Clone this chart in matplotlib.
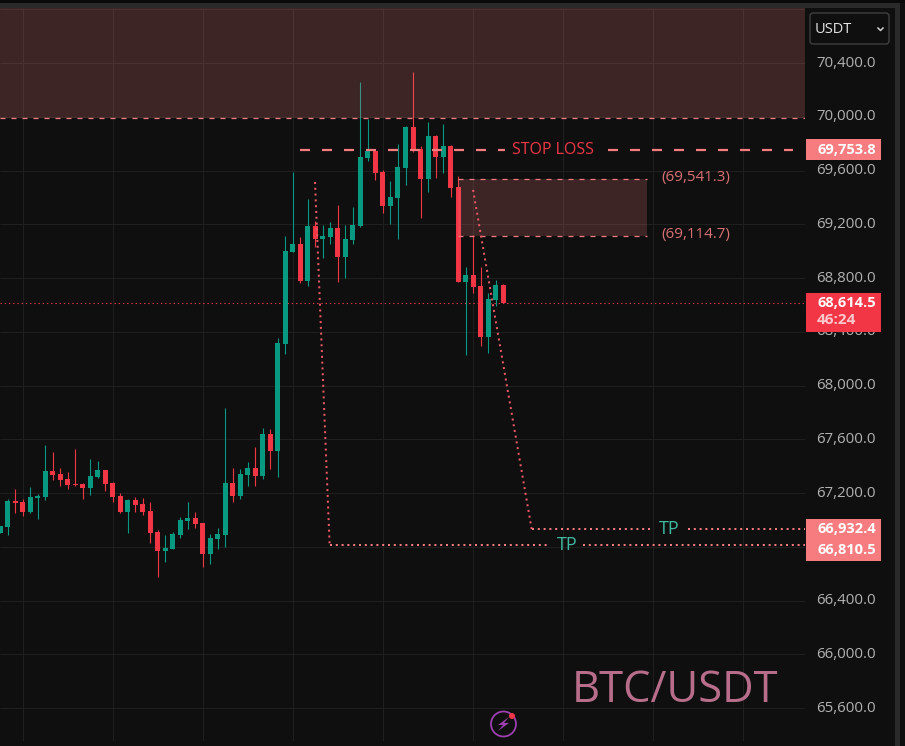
#!/usr/bin/env python
# -*- coding: utf-8 -*-

import matplotlib
matplotlib.use('Agg')
import matplotlib.pyplot as plt
from matplotlib.patches import Circle, FancyBboxPatch, Polygon, Rectangle
from matplotlib.transforms import ScaledTranslation

plt.rcParams['font.family'] = ['Open Sans', 'DejaVu Sans']

# candles, oldest first
opens = [66902, 66947, 67140, 67133, 67058, 67163, 67170, 67364, 67342, 67304,
         67267, 67267, 67237, 67319, 67371, 67274, 67178, 67058, 67148, 67118,
         67066, 66909, 66768, 66783, 66887, 66991, 67014, 66976, 66745, 66857,
         66887, 67274, 67178, 67334, 67386, 67327, 67640, 67514, 68308, 68994,
         69053, 68778, 69188, 69091, 69106, 69173, 68957, 69083, 69188, 69694,
         69746, 69590, 69337, 69396, 69620, 69925, 69761, 69538, 69858, 69702,
         69784, 69478, 68770, 68822, 68740, 68360, 68636, 68748]
highs = [66954, 67155, 67230, 67155, 67245, 67193, 67558, 67506, 67386, 67357,
         67528, 67274, 67453, 67438, 67371, 67282, 67200, 67155, 67170, 67163,
         67133, 66924, 66887, 66909, 67021, 67133, 67058, 66976, 66894, 66939,
         67833, 67386, 67379, 67431, 67543, 67684, 67677, 68353, 69113, 69590,
         69106, 69389, 69225, 69195, 69217, 69344, 69195, 69329, 70261, 69985,
         69746, 69605, 69523, 69799, 69933, 70335, 69784, 69963, 69866, 69948,
         69791, 69560, 68882, 69120, 68882, 68688, 68785, 68755]
lows = [66902, 66887, 67051, 67029, 67051, 67006, 67148, 67297, 67252, 67230,
        67252, 67155, 67185, 67312, 67215, 67133, 67051, 66902, 67058, 67036,
        66827, 66574, 66686, 66783, 66865, 66932, 66939, 66649, 66671, 66783,
        66798, 67133, 67155, 67252, 67252, 67304, 67379, 67319, 68233, 68994,
        68763, 68740, 69031, 68949, 69053, 68770, 68800, 69053, 69180, 69672,
        69530, 69284, 69202, 69091, 69493, 69739, 69247, 69441, 69545, 69582,
        69404, 68770, 68226, 68688, 68293, 68241, 68591, 68614.5]
closes = [66954, 67140, 67125, 67058, 67170, 67178, 67364, 67334, 67297, 67260,
          67257, 67237, 67327, 67371, 67267, 67170, 67058, 67148, 67110, 67058,
          66902, 66768, 66790, 66894, 66999, 67014, 66969, 66745, 66865, 66894,
          67274, 67178, 67342, 67386, 67327, 67640, 67513, 68316, 69001, 69053,
          68778, 69188, 69091, 69113, 69173, 68957, 69091, 69195, 69702, 69746,
          69582, 69337, 69404, 69627, 69925, 69761, 69538, 69858, 69702, 69784,
          69471, 68770, 68822, 68733, 68360, 68644, 68748, 68614.5]

tick_prices = [65600 + 400 * i for i in range(13)]
hidden_ticks = [66800]  # sits completely behind the take profit tag
grid_prices = tick_prices + [70800]
grid_bars = [3 + 12 * i for i in range(9)]

# drawings
zone_top = [70811, 69990]
box_prices = [69541.3, 69114.7]
box_bars = [61, 86.15]
stop_price = 69753.8
stop_left = [39.95, 67.2]
stop_right = [81, 105.6]
last_price = 68614.5
tp_prices = [66932.4, 66810.5]
path1_bars = [41.95, 43.9, 73]
path1_prices = [69516, 66810.5, 66810.5]
path1_tail = [77.6, 107.2]
path2_bars = [63, 70.8, 86.55]
path2_prices = [69457, 66932.4, 66932.4]
path2_tail = [91.6, 107.2]

BG = '#0f0f0f'
GRID = '#1f1f1f'
GREEN = '#089981'
RED = '#f23645'
PINK = '#f77c80'
DOT_RED = '#ef5a66'

fig = plt.figure(figsize=(9.05, 7.46), dpi=100, facecolor=BG)
ax = fig.add_axes([0, (746 - 740.5) / 746, 805 / 905, (740.5 - 8) / 746])
ax.set_facecolor(BG)
ax.set_xlim(0, 107.2)
ax.set_ylim(65359, 70811)
for s in ax.spines.values():
    s.set_visible(False)

ax.hlines(grid_prices, 0, 108, color=GRID, lw=0.8, zorder=1)
ax.vlines(grid_bars, 65359, 70811, color=GRID, lw=0.8, zorder=1)

ax.yaxis.tick_right()
ax.set_yticks(tick_prices)
ax.set_yticklabels(['' if p in hidden_ticks else '{:,.1f}'.format(p) for p in tick_prices],
                   color='#b2b2b2', fontsize=10.8)
ax.tick_params(axis='y', length=0, pad=8)
ax.set_xticks([])
# labels sit 2px above their gridline
for label in ax.get_yticklabels():
    label.set_transform(label.get_transform() + ScaledTranslation(0, 2 / 100, fig.dpi_scale_trans))

# candles
bars = list(range(len(opens)))
colors = [GREEN if c >= o else RED for o, c in zip(opens, closes)]
ax.vlines(bars, lows, highs, color=colors, lw=0.8, zorder=3)
ax.bar(bars, [abs(c - o) for o, c in zip(opens, closes)],
       bottom=[min(o, c) for o, c in zip(opens, closes)],
       width=0.667, color=colors, linewidth=0, zorder=4)

# zones sit on top of the candles
ax.axhspan(zone_top[1], zone_top[0], color=PINK, alpha=0.2, lw=0, zorder=5)
ax.add_patch(Rectangle((box_bars[0], box_prices[1]), box_bars[1] - box_bars[0],
                       box_prices[0] - box_prices[1], facecolor=PINK, alpha=0.2, lw=0, zorder=5))
thin = dict(color=PINK, lw=0.9, dashes=(4, 4.8), zorder=6)
ax.plot([0, 108], [zone_top[1]] * 2, **thin)
ax.plot(box_bars, [box_prices[0]] * 2, **thin)
ax.plot(box_bars, [box_prices[1]] * 2, **thin)

# stop loss, split around its label
thick = dict(color=PINK, lw=1.6, dashes=(4.5, 5.4), zorder=6)
ax.plot(stop_left, [stop_price] * 2, **thick)
ax.plot(stop_right, [stop_price] * 2, **thick)
ax.plot([0, 108], [last_price] * 2, color=RED, lw=0.8, dashes=(1.2, 2.6), zorder=2)

# take profit paths
dots = dict(lw=1.44, dashes=(1, 1.9), zorder=6)
ax.plot(path1_bars[:2], path1_prices[:2], color=DOT_RED, **dots)
ax.plot(path1_bars[1:], path1_prices[1:], color=PINK, **dots)
ax.plot(path1_tail, [tp_prices[1]] * 2, color=PINK, **dots)
ax.plot(path2_bars[:2], path2_prices[:2], color=DOT_RED, **dots)
ax.plot(path2_bars[1:], path2_prices[1:], color=PINK, **dots)
ax.plot(path2_tail, [tp_prices[0]] * 2, color=PINK, **dots)

# everything below is placed in screen pixels
ov = fig.add_axes([0, 0, 1, 1], facecolor='none')
ov.set_xlim(0, 905)
ov.set_ylim(746, 0)
ov.axis('off')


def py(price):
    return 746 - ax.transData.transform((0, price))[1]


ov.add_patch(Rectangle((0, 0), 905, 3, facecolor='#0a0a0a', lw=0))
ov.add_patch(Rectangle((0, 3), 900, 5, facecolor='#2a2a2a', lw=0))
ov.add_patch(Rectangle((895, 3), 5, 743, facecolor='#2a2a2a', lw=0))

ov.text(512, py(stop_price), 'STOP LOSS', color=RED, fontsize=11.5, va='center', ha='left')
ov.text(661, py(box_prices[0]) - 1, '(69,541.3)', color='#d97074', fontsize=10.9, va='center')
ov.text(661, py(box_prices[1]) - 1, '(69,114.7)', color='#d97074', fontsize=10.9, va='center')
ov.text(669, py(tp_prices[0]), 'TP', color='#3fb8a0', fontsize=13, va='center', ha='center')
ov.text(567, py(tp_prices[1]), 'TP', color='#3fb8a0', fontsize=13, va='center', ha='center')
ov.text(572, 691, 'BTC/USDT', color='#b86e8a', fontsize=31.3, va='center', ha='left')

# price tags
ov.add_patch(Rectangle((806, 139), 75, 21, facecolor=PINK, lw=0))
ov.text(817, py(stop_price), '69,753.8', color='white', fontsize=10.5, fontweight='bold', va='center')
ov.add_patch(Rectangle((806, 293), 75, 39, facecolor=RED, lw=0))
ov.text(817, py(last_price), '68,614.5', color='white', fontsize=10.5, fontweight='bold', va='center')
ov.text(817, 320, '46:24', color='#fbc9cd', fontsize=11, fontweight='bold', va='center')
ov.add_patch(Rectangle((806, 519), 75, 42, facecolor=PINK, lw=0))
ov.text(817, 529, '66,932.4', color='white', fontsize=10.5, fontweight='bold', va='center')
ov.text(817, 550, '66,810.5', color='white', fontsize=10.5, fontweight='bold', va='center')

# currency button
ov.add_patch(FancyBboxPatch((810, 13), 79, 31, boxstyle='round,pad=0,rounding_size=3',
                            facecolor=BG, edgecolor='#444444', lw=0.9, mutation_aspect=1))
ov.text(815, 29.5, 'USDT', color='#e4e4e4', fontsize=10.5, va='center')
ov.plot([878, 880.5, 883], [28, 30.5, 28], color='#d0d0d0', lw=1.1)

# lightning badge
ov.add_patch(Circle((503.5, 724), 12.5, facecolor='none', edgecolor='#9c3fb0', lw=1.3))
ov.add_patch(Polygon([(509, 717), (498, 725), (503, 725), (498, 731), (509, 723), (504, 723)],
                     facecolor='#9c3fb0', lw=0))
ov.add_patch(Circle((512, 716), 3, facecolor=RED, lw=0))

plt.savefig('out.png', dpi=100, facecolor=BG)
